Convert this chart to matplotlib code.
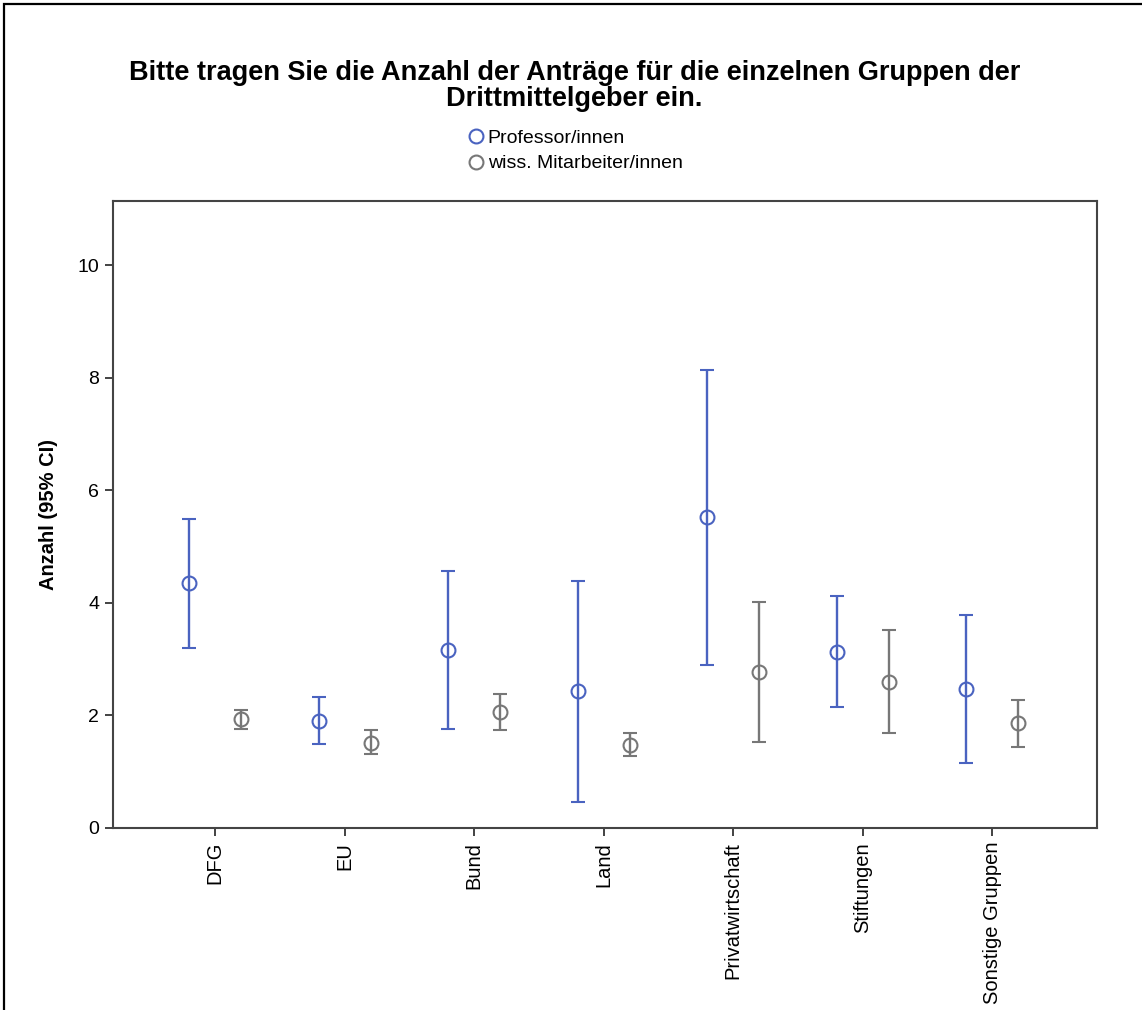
import matplotlib
matplotlib.use("Agg")
import matplotlib.pyplot as plt
from matplotlib.lines import Line2D
from matplotlib.patches import Rectangle
import numpy as np

plt.rcParams['font.family'] = ['Liberation Sans', 'DejaVu Sans']

categories = ["DFG", "EU", "Bund", "Land", "Privatwirtschaft", "Stiftungen", "Sonstige Gruppen"]
series_names = ["Professor/innen", "wiss. Mitarbeiter/innen"]

prof_mean = [4.35, 1.90, 3.16, 2.43, 5.52, 3.13, 2.47]
prof_low = [3.20, 1.49, 1.76, 0.47, 2.90, 2.15, 1.15]
prof_high = [5.49, 2.33, 4.56, 4.38, 8.13, 4.12, 3.78]

wiss_mean = [1.94, 1.51, 2.06, 1.47, 2.77, 2.59, 1.86]
wiss_low = [1.76, 1.31, 1.74, 1.28, 1.53, 1.69, 1.44]
wiss_high = [2.10, 1.74, 2.38, 1.69, 4.02, 3.52, 2.27]

yticks = [0, 2, 4, 6, 8, 10]

blue = "#4a63c0"
grey = "#777777"

fig = plt.figure(figsize=(11.42, 10.10), dpi=100)
ax = fig.add_axes([113/1142, 1 - 828/1010, (1097 - 113)/1142, (828 - 201)/1010])

x = np.arange(len(categories))
off = 0.2
for xs, m, lo, hi, c in [(x - off, prof_mean, prof_low, prof_high, blue),
                         (x + off, wiss_mean, wiss_low, wiss_high, grey)]:
    m = np.array(m); lo = np.array(lo); hi = np.array(hi)
    ax.errorbar(xs, m, yerr=[m - lo, hi - m], fmt='o', color=c, ecolor=c,
                markerfacecolor='none', markeredgecolor=c, markersize=10,
                markeredgewidth=1.5, elinewidth=1.7, capsize=5, capthick=1.7)

ax.set_xlim(-0.79, 6.81)
ax.set_ylim(0, 11.14)
ax.set_yticks(yticks)
ax.set_yticklabels([str(t) for t in yticks], fontsize=14)
ax.set_xticks(x)
ax.set_xticklabels(categories, rotation=90, fontsize=14.5, va='top')
ax.tick_params(axis='both', direction='out', length=6, width=1.2, color='#222222', pad=4)
for s in ax.spines.values():
    s.set_color('#444444')
    s.set_linewidth(1.5)
ax.set_ylabel("Anzahl (95% CI)", fontsize=14.5, fontweight='bold')
ax.yaxis.set_label_coords((58 - 113) / 984, 0.5)

fig.text(0.503, 1 - 86/1010, "Bitte tragen Sie die Anzahl der Anträge für die einzelnen Gruppen der\nDrittmittelgeber ein.",
         ha='center', va='center', fontsize=19.5, fontweight='bold', linespacing=0.95)

handles = [Line2D([], [], marker='o', linestyle='none', markerfacecolor='none',
                  markeredgecolor=c, markersize=10, markeredgewidth=1.5)
           for c in (blue, grey)]
fig.legend(handles, series_names, loc='center', bbox_to_anchor=(0.503, 1 - 151/1010),
           frameon=False, fontsize=14, handletextpad=0.1, labelspacing=0.4,
           handlelength=1.0, borderaxespad=0, borderpad=0)

fig.add_artist(Rectangle((4/1142, -0.1), 1.2, 1 - 4/1010 + 0.1, transform=fig.transFigure,
                         fill=False, edgecolor='black', linewidth=1.6, clip_on=False))

fig.savefig("out.png", dpi=100, facecolor='white')
